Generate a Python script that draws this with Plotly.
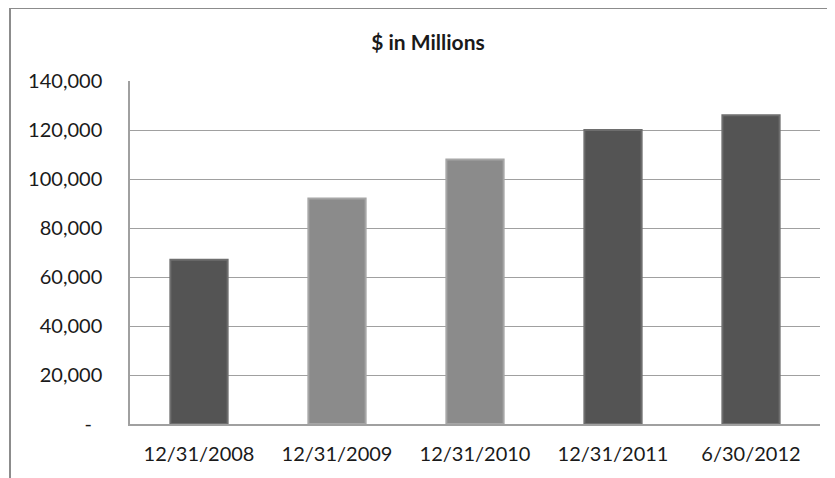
import plotly.graph_objects as go

categories = ["12/31/2008", "12/31/2009", "12/31/2010", "12/31/2011", "6/30/2012"]
values = [67000, 92000, 108000, 120000, 126000]
bar_colors = ["#545454", "#8b8b8b", "#8b8b8b", "#545454", "#545454"]
edge_colors = ["#6e6e6e", "#a6a6a6", "#a6a6a6", "#6e6e6e", "#6e6e6e"]
tick_vals = [0, 20000, 40000, 60000, 80000, 100000, 120000, 140000]
tick_text = ["-\u00a0\u00a0", "20,000", "40,000", "60,000", "80,000", "100,000", "120,000", "140,000"]
title_text = "$ in Millions"

FONT = "Lato, Calibri, Carlito, 'Open Sans', sans-serif"

# the page body adds an 8px offset; margins compensate for it
OFF = 8
W, H = 835, 478
left, right_edge, top, bottom_edge = 130 - OFF, 820 - OFF, 81 - OFF, 424 - OFF

fig = go.Figure(
    go.Bar(
        x=categories,
        y=values,
        marker=dict(color=bar_colors, line=dict(color=edge_colors, width=2)),
        hoverinfo="x+y",
    )
)

fig.update_layout(
    width=W,
    height=H,
    margin=dict(l=left, r=W - right_edge, t=top, b=H - bottom_edge),
    paper_bgcolor="white",
    plot_bgcolor="white",
    bargap=0.585,
    showlegend=False,
    font=dict(family=FONT, size=20, color="#1a1a1a"),
    title=dict(
        text="<b>" + title_text + "</b>",
        x=(428 - OFF) / W,
        xref="container",
        xanchor="center",
        y=1 - (43 - OFF) / H,
        yref="container",
        yanchor="middle",
        font=dict(family=FONT, size=21, color="#1a1a1a"),
    ),
    xaxis=dict(
        showgrid=False,
        showline=True,
        linecolor="#a0a0a0",
        linewidth=1.5,
        ticks="",
        ticklabelstandoff=11,
        tickfont=dict(family=FONT, size=20, color="#1a1a1a"),
    ),
    yaxis=dict(
        range=[0, 140000],
        tickvals=tick_vals,
        ticktext=tick_text,
        showgrid=True,
        gridcolor="#a0a0a0",
        gridwidth=1.2,
        showline=True,
        linecolor="#a0a0a0",
        linewidth=1.5,
        zeroline=False,
        ticks="",
        ticklabelstandoff=22,
        tickfont=dict(family=FONT, size=20, color="#1a1a1a"),
    ),
    shapes=[
        dict(
            type="rect",
            xref="paper",
            yref="paper",
            x0=(10 - 130) / 690,
            x1=1.2,
            y0=-0.3,
            y1=(424 - 8) / 343,
            line=dict(color="#8c8c8c", width=2),
            fillcolor="rgba(0,0,0,0)",
            layer="below",
        )
    ],
)

fig.write_html("out.html")
